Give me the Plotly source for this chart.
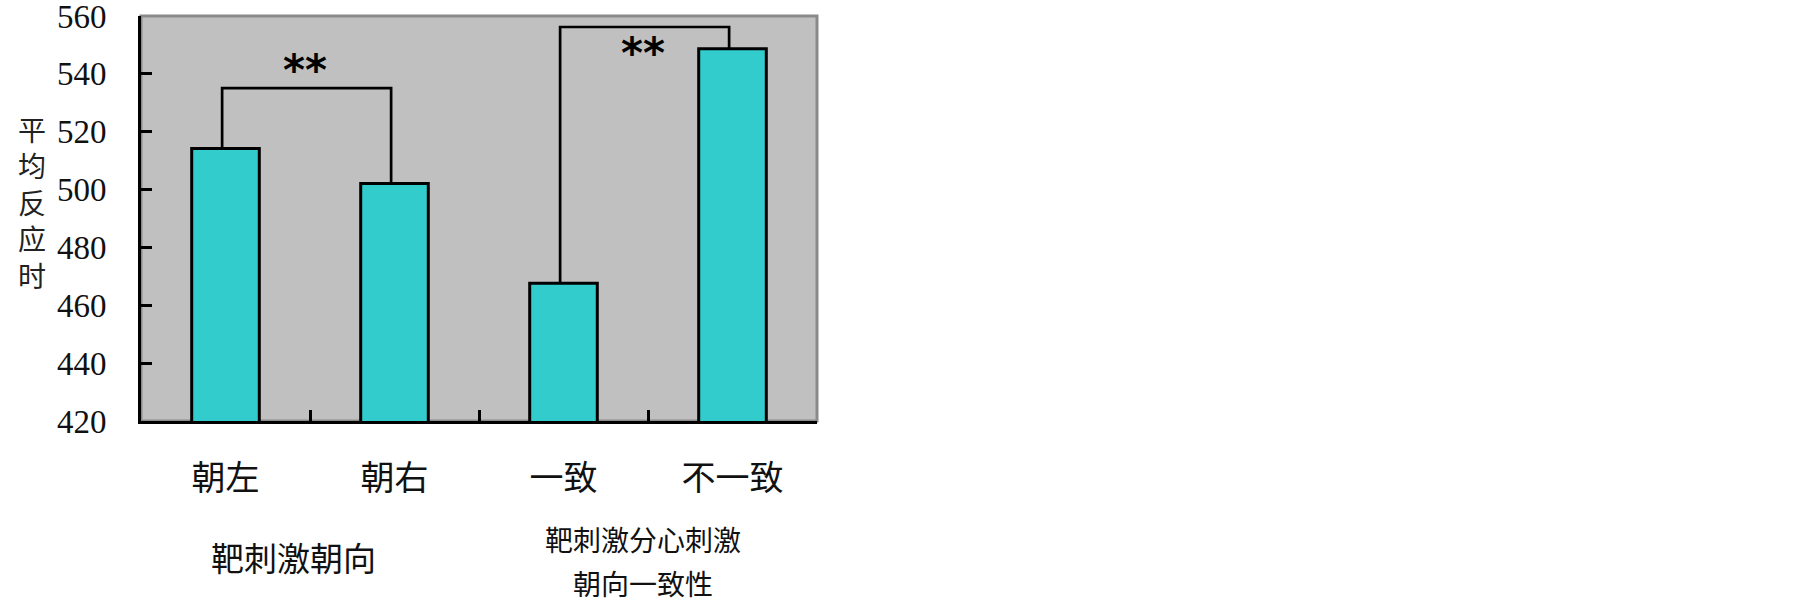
import plotly.graph_objects as go

# ---- data ----
categories = ["朝左", "朝右", "一致", "不一致"]
mean_rt = [514.2, 502.1, 467.6, 548.7]
y_ticks = [420, 440, 460, 480, 500, 520, 540, 560]
group_labels = ["靶刺激朝向", "靶刺激分心刺激", "朝向一致性"]
y_title = "平均反应时"
# significance brackets: (left bar index, right bar index, bracket top value)
brackets = [(0, 1, 535.1), (2, 3, 556.2)]
sig_text = "**"

# ---- layout constants (page pixels; body margin removed) ----
W, H = 1799, 605
L, R, T, B = 141, 817, 16, 421          # plot area in page pixels
PW, PH = R - L, B - T

def px(xp):
    return (xp - L) / PW

def py(yp):
    return (B - yp) / PH

cjk = "Noto Sans CJK SC"
bar_color = "#33CCCC"

fig = go.Figure()
fig.add_trace(go.Bar(
    x=categories, y=mean_rt,
    marker=dict(color=bar_color, line=dict(color="black", width=3)),
    width=0.4, xaxis="x", yaxis="y", showlegend=False,
))
# invisible trace to activate overlay axes (boundary ticks / inner y ticks)
fig.add_trace(go.Scatter(x=[-0.5, 3.5], y=[420, 420], mode="none",
                         xaxis="x2", yaxis="y2", showlegend=False, hoverinfo="skip"))

shapes = [
    dict(type="rect", xref="paper", yref="paper", x0=0, x1=1, y0=0, y1=1,
         line=dict(color="#8a8a8a", width=3), fillcolor="rgba(0,0,0,0)", layer="below"),
]
off = -0.02
for (i, j, top) in brackets:
    xi, xj = i + off, j + off
    path = f"M {xi},{mean_rt[i]} L {xi},{top} L {xj},{top} L {xj},{mean_rt[j]}"
    shapes.append(dict(type="path", xref="x2", yref="y", path=path,
                       line=dict(color="black", width=2.7)))

sig_pos = [(0.47, 541.0), (2.469, 547.0)]
annotations = []
for (sx, sy) in sig_pos:
    annotations.append(dict(
        x=sx, y=sy, xref="x2", yref="y",
        text=sig_text, showarrow=False, xanchor="center", yanchor="middle",
        font=dict(family="DejaVu Sans", size=42, color="black", weight="bold"),
    ))

annotations.append(dict(
    x=px(32), y=py(201.5), xref="paper", yref="paper",
    text="<br>".join(list(y_title)), showarrow=False,
    xanchor="center", yanchor="middle",
    font=dict(family=cjk, size=28, color="#222"),
))
annotations.append(dict(x=px(293), y=py(557), xref="paper", yref="paper",
                        text=group_labels[0], showarrow=False,
                        xanchor="center", yanchor="middle",
                        font=dict(family=cjk, size=33, color="#111")))
annotations.append(dict(x=px(643.3), y=py(539), xref="paper", yref="paper",
                        text=group_labels[1], showarrow=False,
                        xanchor="center", yanchor="middle",
                        font=dict(family=cjk, size=28, color="#111")))
annotations.append(dict(x=px(643.3), y=py(583), xref="paper", yref="paper",
                        text=group_labels[2], showarrow=False,
                        xanchor="center", yanchor="middle",
                        font=dict(family=cjk, size=28, color="#111")))

fig.update_layout(
    width=W, height=H,
    margin=dict(l=L, r=W - R, t=T, b=H - B, pad=0, autoexpand=False),
    paper_bgcolor="white", plot_bgcolor="#c0c0c0",
    bargap=0.6,
    xaxis=dict(type="category", range=[-0.5, 3.5], showline=True, linecolor="black",
               linewidth=3, ticks="", showgrid=False, zeroline=False,
               tickfont=dict(family=cjk, size=34, color="#111"),
               ticklabelstandoff=25, automargin=False),
    xaxis2=dict(overlaying="x", type="linear", range=[-0.5, 3.5], side="bottom",
                anchor="y", tickvals=[0.5, 1.5, 2.5], ticks="inside", ticklen=11,
                tickwidth=3, tickcolor="black", showticklabels=False,
                showgrid=False, zeroline=False, showline=False, automargin=False),
    yaxis=dict(range=[420, 560], tickvals=y_ticks, ticks="outside", ticklen=25,
               tickwidth=1, tickcolor="rgba(0,0,0,0)", showline=True,
               linecolor="black", linewidth=3, showgrid=False, zeroline=False,
               tickfont=dict(family="Liberation Serif", size=33, color="#111"),
               ticklabeloverflow="allow", automargin=False),
    yaxis2=dict(overlaying="y", matches="y", range=[420, 560], tickvals=y_ticks,
                side="left", anchor="x", ticks="inside", ticklen=11, tickwidth=3,
                tickcolor="black", showticklabels=False, showgrid=False,
                zeroline=False, showline=False, automargin=False),
    shapes=shapes, annotations=annotations,
)

fig.write_html("out.html",
               config={"displayModeBar": False},
               post_script="document.body.style.margin='0px';"
                           "document.body.style.overflow='hidden';")
